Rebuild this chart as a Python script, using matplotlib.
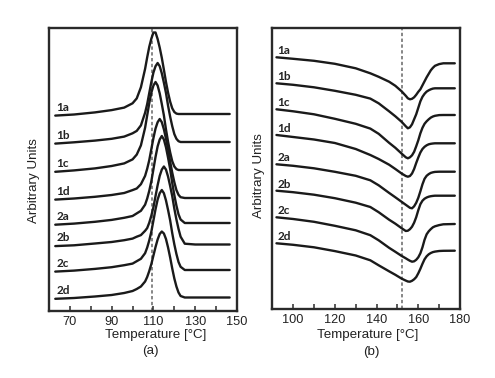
import matplotlib
matplotlib.use("Agg")
import matplotlib.pyplot as plt
from matplotlib.ticker import MultipleLocator

plt.rcParams['font.family'] = ['Liberation Sans', 'DejaVu Sans']

samples = ['1a', '1b', '1c', '1d', '2a', '2b', '2c', '2d']

# ---- panel (a): crystallisation exotherms, height above each trace's baseline
temp_a = [63, 72, 82, 90, 96, 100, 102, 104, 106, 107, 108, 109, 110, 111, 112,
          113, 114, 115, 116, 117, 118, 119, 120, 121, 122, 123, 125, 130, 146.5]
base_a = [197, 169, 141, 113, 88, 66.5, 41, 13.5]
peak_a = {
    '1a': [-1.6, -0.5, 1.6, 3.9, 6.4, 10.7, 15.6, 26.7, 45.1, 56.6, 67.2, 75.4, 81.5, 81.5, 75,
           66.4, 56.2, 44.3, 32, 21.3, 12.3, 5.7, 2, 0.4, 0, 0, 0, 0, 0],
    '1b': [-1.6, -0.3, 1.4, 3.2, 5.4, 8.7, 11.1, 16.6, 29.2, 37.9, 49, 60, 69.5, 75.8, 79,
           75.8, 68.7, 59.3, 49, 36.3, 25.3, 15.8, 7.9, 3.2, 0.8, 0, 0, 0, 0],
    '1c': [-1.8, -0.4, 1.6, 4, 6.6, 10.6, 15.4, 24.6, 42.2, 54.6, 66.9, 77.4, 84.5, 88, 84.5,
           76.6, 66, 54.6, 40.5, 28.2, 17.6, 8.8, 3.5, 0.9, 0, 0, 0, 0, 0],
    '1d': [-1.6, -0.5, 1.2, 3, 5, 7.9, 9.5, 13.8, 22.1, 29.2, 37.9, 49, 60, 69.5, 75.8,
           79, 75.8, 68.7, 59.3, 49, 36.3, 25.3, 15.8, 7.9, 3.2, 0.8, 0, 0, 0],
    '2a': [-1.7, -0.6, 1.2, 3.1, 5.2, 7, 9.6, 12.2, 18.3, 24.4, 32.2, 41.8, 53.9, 66.1, 76.6,
           83.5, 87, 83.5, 75.7, 65.3, 53.9, 40, 27.8, 17.4, 8.7, 3.5, 0, 0, 0],
    '2b': [-1.6, -0.8, 1, 2.5, 4.3, 5.9, 7.8, 9.4, 13.7, 16.4, 21.8, 28.9, 37.4, 48.4, 59.3,
           68.6, 74.9, 78, 74.9, 67.9, 58.5, 48.4, 35.9, 25, 15.6, 7.8, 0.8, 0, 0],
    '2c': [-1.6, -0.6, 1.1, 2.8, 4.8, 6.4, 8.8, 11.2, 16.8, 22.4, 29.6, 38.4, 49.6, 60.8, 70.4,
           76.8, 80, 76.8, 69.6, 60, 49.6, 36.8, 25.6, 16, 8, 3.2, 0, 0, 0],
    '2d': [-1.3, -0.5, 1, 2.5, 4.5, 6.5, 8.5, 11, 16, 20.5, 26.5, 33.5, 42, 50.5, 58,
           63.5, 66, 64, 58.5, 50, 40, 29, 19, 11, 5, 1.5, 0, 0, 0],
}
ref_a = 109.4

# ---- panel (b): melting endotherms, signal relative to each trace's start
temp_b = [92, 100, 110, 120, 130, 137, 141, 146, 149, 152, 154, 155, 156, 157,
          158, 159, 160, 161, 162, 163, 164, 165, 166, 167, 168, 170, 172, 177.5]
start_b = [253.7, 227.7, 201.7, 176, 146.7, 120.3, 93.7, 67.7]
dip_b = {
    '1a': [0, -1.5, -3.5, -6.5, -11, -16, -19.5, -24.4, -28.5, -34, -38.5, -41, -42, -41.5,
           -40, -37.5, -34.5, -32, -28, -24, -20, -16.5, -13, -10.5, -8.5, -6.8, -6, -6],
    '1b': [0, -1.5, -4, -7.5, -11.5, -15.3, -20, -28, -33, -38.5, -43, -45, -44, -41,
           -36, -31, -24.5, -18, -13.5, -10.5, -8.3, -7, -6, -5.3, -5, -5, -5, -5],
    '1c': [0, -2, -5, -9.5, -14.5, -19.3, -24.5, -33.5, -38.5, -44.3, -48, -49, -48, -46,
           -42.5, -37, -31, -24, -18.5, -14.5, -12, -10, -8.3, -7.2, -6.5, -5.8, -5.7, -5.7],
    '1d': [0, -2, -4.5, -8, -14, -20, -24, -29.7, -34, -38.5, -41, -41.7, -41, -38.5,
           -34, -28, -22.5, -17.5, -14, -11.8, -10.3, -9.3, -8.8, -8.5, -8.3, -8.3, -8.3, -8.3],
    '2a': [0, -1.5, -4, -7.5, -11.5, -16, -21, -28.6, -33, -37.5, -40.5, -42, -43.5, -44,
           -42, -38.5, -33.5, -27, -20, -14.5, -11.5, -9.8, -8.6, -8, -7.6, -7.4, -7.4, -7.4],
    '2b': [0, -1.5, -4, -7.5, -12, -16.3, -21.5, -29, -33, -37.5, -40.3, -40, -38.5, -36,
           -32, -26.5, -19.5, -13.5, -10, -8, -6.8, -6, -5.5, -5.2, -5, -5, -5, -5],
    '2c': [0, -1.7, -4.5, -8.5, -13, -17.9, -23, -30.5, -34.5, -38.6, -41, -42.3, -43.5, -44.4,
           -44, -42.5, -40, -36, -30, -22.5, -17, -14, -11.8, -10, -9, -7.8, -7, -6.7],
    '2d': [0, -1.5, -4, -7.8, -12.2, -17, -22, -28, -31.5, -35.3, -37.3, -38.2, -38.4, -37.5,
           -36, -33.8, -30, -25.5, -20.5, -16, -13, -11, -9.7, -8.8, -8.3, -7.7, -7.5, -7.4],
}
ref_b = 152.4

W, H = 495, 378
fig = plt.figure(figsize=(W / 100, H / 100), dpi=100)

def px_axes(l, r, t, b):
    return fig.add_axes([l / W, 1 - b / H, (r - l) / W, (b - t) / H])

ax_a = px_axes(49, 237, 28.3, 310.7)
ax_b = px_axes(272.3, 460, 28.3, 309.3)

line_kw = dict(color='#1a1a1a', lw=1.7, solid_capstyle='round', solid_joinstyle='round')
lab_kw = dict(fontsize=8.5, fontweight='bold', family=['Lato', 'DejaVu Sans'],
              color='#222222', va='bottom', ha='left')

for i, s in enumerate(samples):
    ya = [base_a[i] + v for v in peak_a[s]]
    ax_a.plot(temp_a, ya, **line_kw)
    ax_a.text(63.5, base_a[i] + 1.2, s, **lab_kw)

    yb = [start_b[i] + v for v in dip_b[s]]
    ax_b.plot(temp_b, yb, **line_kw)
    ax_b.text(92.5, start_b[i] + 1.2, s, **lab_kw)

ax_a.axvline(ref_a, color='#666666', lw=1.1, ls=(0, (2.2, 1.6)), zorder=0)
ax_b.axvline(ref_b, color='#666666', lw=1.1, ls=(0, (2.2, 1.6)), zorder=0)

ax_a.set_xlim(60, 150)
ax_a.set_ylim(0.3, 282.7)
ax_b.set_xlim(90, 180)
ax_b.set_ylim(1.7, 282.7)

ax_a.set_xticks([70, 90, 110, 130, 150])
ax_a.xaxis.set_minor_locator(MultipleLocator(10))
ax_b.set_xticks([100, 120, 140, 160, 180])
ax_b.xaxis.set_minor_locator(MultipleLocator(10))

for ax in (ax_a, ax_b):
    ax.set_yticks([])
    for sp in ax.spines.values():
        sp.set_linewidth(1.7)
        sp.set_color('#2a2a2a')
    ax.tick_params(axis='x', which='both', direction='in', length=3.5, width=1.1,
                   labelsize=9.2, pad=3.5, colors='#2a2a2a', labelcolor='#222222')

def ftext(x, y, s, **kw):
    fig.text(x / W, 1 - y / H, s, ha='center', va='center', color='#222222', **kw)

ftext(155.5, 335, 'Temperature [°C]', fontsize=9.6)
ftext(150, 351, '(a)', fontsize=9.6)
ftext(368, 335, 'Temperature [°C]', fontsize=9.6)
ftext(371, 351.5, '(b)', fontsize=9.6)
ftext(34, 181, 'Arbitrary Units', fontsize=9.6, rotation=90)
ftext(259, 176, 'Arbitrary Units', fontsize=9.6, rotation=90)

fig.savefig('out.png', dpi=100, facecolor='white')
